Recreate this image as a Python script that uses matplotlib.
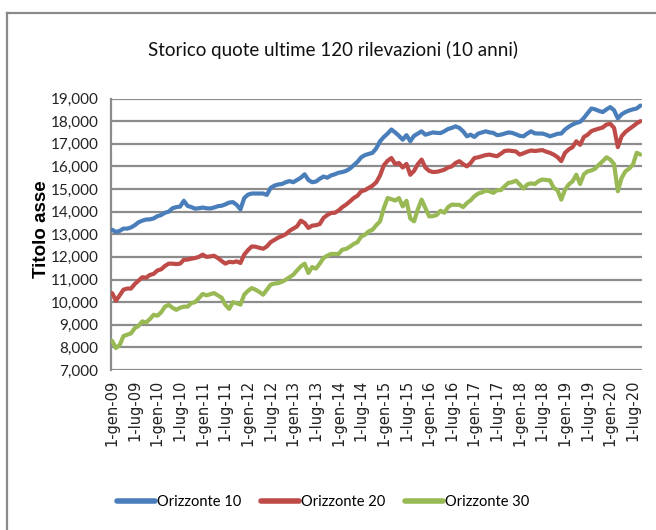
import matplotlib
matplotlib.use("Agg")
import matplotlib.pyplot as plt
from matplotlib.lines import Line2D
from matplotlib.ticker import FuncFormatter, FixedLocator

# ---- data (monthly, Jan 2009 .. Sep 2020) ----
orizzonte_10 = [
    13200, 13100, 13150, 13250, 13250, 13300, 13400, 13530, 13600, 13650, 13660, 13700,
    13800, 13850, 13950, 14000, 14150, 14200, 14220, 14480, 14250, 14200, 14130, 14150,
    14180, 14150, 14140, 14180, 14240, 14260, 14320, 14400, 14420, 14300, 14100, 14600,
    14750, 14800, 14800, 14800, 14800, 14740, 15050, 15150, 15200, 15220, 15300, 15350,
    15300, 15400, 15500, 15650, 15400, 15300, 15330, 15450, 15550, 15500, 15600, 15650,
    15720, 15750, 15800, 15900, 16050, 16200, 16400, 16500, 16550, 16600, 16800, 17110,
    17300, 17450, 17630, 17500, 17350, 17180, 17380, 17110, 17350, 17450, 17550, 17400,
    17450, 17500, 17480, 17470, 17550, 17650, 17700, 17770, 17700, 17550, 17330, 17400,
    17300, 17450, 17500, 17550, 17500, 17480, 17380, 17400, 17450, 17500, 17480, 17420,
    17350, 17330, 17450, 17550, 17460, 17450, 17450, 17400, 17330, 17380, 17440, 17450,
    17630, 17750, 17850, 17920, 17970, 18140, 18350, 18560, 18520, 18450, 18400, 18520,
    18620, 18480, 18120, 18300, 18400, 18470, 18520, 18560, 18690,
]
orizzonte_20 = [
    10400, 10060, 10300, 10550, 10600, 10600, 10800, 10950, 11100, 11080, 11200, 11250,
    11400, 11450, 11600, 11700, 11700, 11680, 11700, 11870, 11880, 11920, 11950, 12000,
    12100, 12000, 12020, 12050, 11950, 11820, 11700, 11780, 11760, 11800, 11730, 12100,
    12300, 12460, 12450, 12400, 12360, 12460, 12650, 12750, 12850, 12920, 13000, 13150,
    13250, 13350, 13600, 13500, 13280, 13380, 13400, 13450, 13720, 13850, 13940, 13950,
    14050, 14200, 14310, 14450, 14600, 14700, 14900, 14950, 15050, 15150, 15300, 15600,
    16050, 16250, 16370, 16100, 16150, 15950, 16110, 15630, 15800, 16100, 16300, 15950,
    15800, 15750, 15760, 15800, 15850, 15950, 16000, 16150, 16230, 16100, 16000, 16150,
    16370, 16400, 16450, 16500, 16520, 16480, 16450, 16560, 16680, 16700, 16680, 16660,
    16520, 16580, 16650, 16700, 16680, 16700, 16720, 16650, 16600, 16520, 16410, 16230,
    16600, 16750, 16850, 17110, 16950, 17300, 17400, 17560, 17620, 17670, 17720, 17850,
    17880, 17700, 16850, 17330, 17520, 17650, 17770, 17900, 18000,
]
orizzonte_30 = [
    8290, 7970, 8100, 8500, 8560, 8620, 8850, 8950, 9150, 9100, 9250, 9440,
    9400, 9550, 9800, 9880, 9750, 9660, 9750, 9800, 9800, 9960, 10000, 10180,
    10360, 10300, 10350, 10400, 10300, 10200, 9880, 9700, 10000, 9950, 9890, 10330,
    10500, 10620, 10550, 10450, 10330, 10550, 10770, 10820, 10840, 10900, 10990, 11100,
    11210, 11400, 11580, 11700, 11290, 11550, 11480, 11700, 11950, 12050, 12130, 12130,
    12130, 12320, 12350, 12450, 12570, 12650, 12900, 12980, 13130, 13200, 13400, 13570,
    14160, 14600, 14550, 14490, 14600, 14230, 14480, 13700, 13570, 14100, 14530, 14160,
    13790, 13800, 13850, 14040, 13950, 14200, 14310, 14300, 14300, 14200, 14380, 14500,
    14680, 14800, 14850, 14930, 14900, 14830, 14950, 14950, 15120, 15270, 15300, 15370,
    15200, 15020, 15200, 15250, 15220, 15350, 15420, 15400, 15380, 15050, 14950, 14530,
    14970, 15200, 15340, 15630, 15220, 15650, 15780, 15820, 15900, 16080, 16230, 16400,
    16300, 16100, 14900, 15490, 15780, 15900, 16080, 16600, 16520,
]
series_names = ["Orizzonte 10", "Orizzonte 20", "Orizzonte 30"]
tick_labels = []
for yy in range(9, 21):
    tick_labels.append("1-gen-%02d" % yy)
    tick_labels.append("1-lug-%02d" % yy)
title = "Storico quote ultime 120 rilevazioni (10 anni)"
y_label = "Titolo asse"

colors = ["#4A7EBB", "#BE4B48", "#98B954"]
calib = ["Lato", "DejaVu Sans"]

fig = plt.figure(figsize=(6.56, 5.30), dpi=100)
W, H = 656, 530

# outer chart border
fig.add_artist(Line2D([7 / W, 7 / W], [0, 1 - 13 / H], transform=fig.transFigure,
                      color="#8a8a8a", lw=1.6))
fig.add_artist(Line2D([7 / W, 1], [1 - 13 / H, 1 - 13 / H], transform=fig.transFigure,
                      color="#8a8a8a", lw=1.6))

ax = fig.add_axes([111 / W, 1 - 370 / H, (642 - 111) / W, (370 - 98.5) / H])

months = list(range(len(orizzonte_10)))
for vals, c, name in zip([orizzonte_10, orizzonte_20, orizzonte_30], colors, series_names):
    ax.plot(months, vals, color=c, lw=3.0, label=name, solid_joinstyle="round",
            solid_capstyle="round", zorder=3)

ax.set_ylim(7000, 19000)
ax.set_xlim(-0.3, 140.4)
ax.yaxis.set_major_locator(FixedLocator(range(7000, 19001, 1000)))
ax.yaxis.set_major_formatter(FuncFormatter(lambda v, p: f"{int(v):,}"))
ax.grid(axis="y", color="#8c8c8c", lw=1.6)
ax.set_axisbelow(True)
ax.set_xticks([6 * i for i in range(len(tick_labels))])
ax.set_xticklabels(tick_labels, rotation=90, fontsize=10.5, family="DejaVu Sans",
                   color="#222222")
for lab in ax.get_yticklabels():
    lab.set_fontfamily(calib)
    lab.set_fontsize(11)
    lab.set_color("#222222")
ax.tick_params(axis="both", length=0)
ax.tick_params(axis="y", pad=9)
ax.tick_params(axis="x", pad=7)
for s in ["top", "right", "bottom"]:
    ax.spines[s].set_visible(False)
ax.spines["left"].set_color("#8c8c8c")
ax.spines["left"].set_linewidth(1.6)

ax.set_ylabel(y_label, fontsize=13.5, fontweight="bold", family="Liberation Sans")
ax.yaxis.set_label_coords((50 - 111) / (642 - 111), 0.52)

fig.text(333 / W, 1 - 50 / H, title, ha="center", va="center", fontsize=13.5,
         family=calib, color="#111111")

leg = fig.legend(loc="center", bbox_to_anchor=(323 / W, 1 - 502 / H), ncol=3,
                 frameon=False, prop={"family": calib, "size": 10.5},
                 handlelength=2.6, handletextpad=0.1, columnspacing=1.4)
for h in leg.get_lines():
    h.set_linewidth(4)

fig.savefig("out.png", dpi=100)
